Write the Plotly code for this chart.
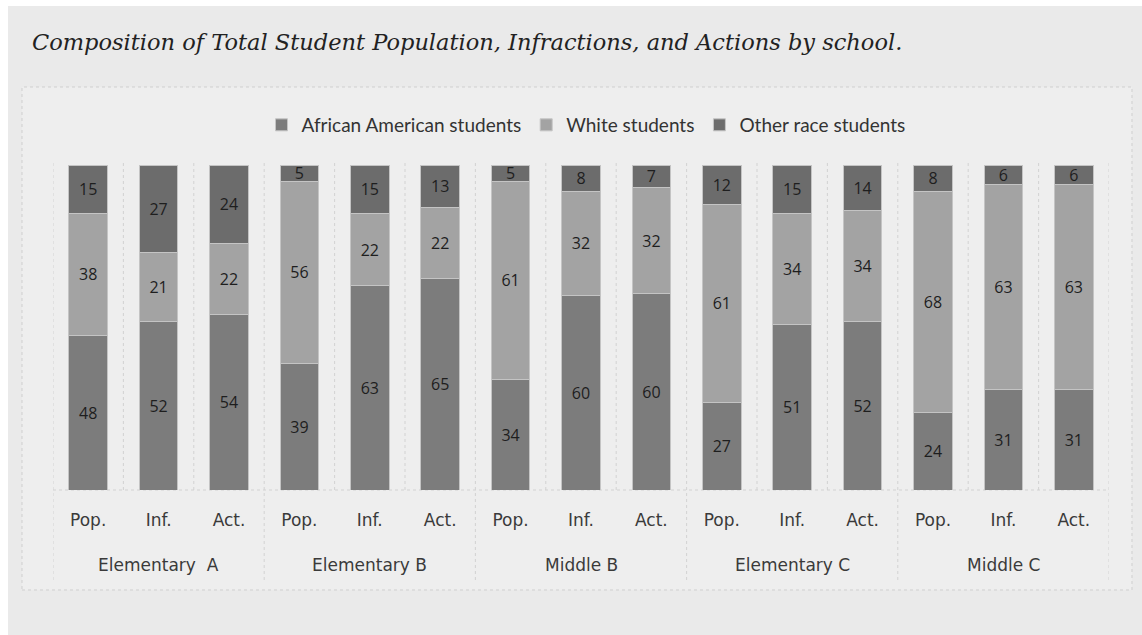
import plotly.graph_objects as go

groups = ["Elementary  A", "Elementary B", "Middle B", "Elementary C", "Middle C"]
measures = ["Pop.", "Inf.", "Act."]
african_american = [48, 52, 54, 39, 63, 65, 34, 60, 60, 27, 51, 52, 24, 31, 31]
white = [38, 21, 22, 56, 22, 22, 61, 32, 32, 61, 34, 34, 68, 63, 63]
other = [15, 27, 24, 5, 15, 13, 5, 8, 7, 12, 15, 14, 8, 6, 6]

series = [
    ("African American students", african_american, "#7c7c7c"),
    ("White students", white, "#a3a3a3"),
    ("Other race students", other, "#6c6c6c"),
]

n = len(african_american)
xs = list(range(n))
ticktext = [measures[i % 3] for i in xs]

fig = go.Figure()
for name, vals, col in series:
    fig.add_trace(go.Bar(
        x=xs, y=vals, name=name, text=vals, texttemplate="%{text}",
        textposition="inside", insidetextanchor="middle", textangle=0,
        textfont=dict(family="Open Sans", size=16, color="#1e1e1e"),
        marker=dict(color=col, line=dict(color="#c4c4c4", width=1)),
        width=0.55,
    ))

L, R, T, B = 53, 33, 165, 145
W, H = 1142, 635
pw = W - L - R
ph = H - T - B

def px(xpix):
    return (xpix - L) / pw

def py(ypix):
    return (H - B - ypix) / ph

shapes = []
shapes.append(dict(type="rect", xref="paper", yref="paper", x0=px(8), x1=px(1142), y0=py(635), y1=py(6),
                   fillcolor="#eaeaea", line=dict(width=0), layer="below"))
shapes.append(dict(type="rect", xref="paper", yref="paper", x0=px(22), x1=px(1132), y0=py(590), y1=py(87),
                   fillcolor="#eeeeee", line=dict(color="#cfcfcf", width=1, dash="dot"), layer="below"))
for i in range(n + 1):
    xv = i - 0.5
    shapes.append(dict(type="line", xref="x", yref="paper", x0=xv, x1=xv, y0=0, y1=py(160),
                       line=dict(color="#d2d2d2", width=1, dash="dot"), layer="below"))
for g in range(len(groups) + 1):
    xv = g * 3 - 0.5
    shapes.append(dict(type="line", xref="x", yref="paper", x0=xv, x1=xv, y0=py(580), y1=0,
                       line=dict(color="#d2d2d2", width=1, dash="dot"), layer="below"))
shapes.append(dict(type="line", xref="x", yref="paper", x0=-0.5, x1=n - 0.5, y0=0, y1=0,
                   line=dict(color="#d2d2d2", width=1, dash="dot"), layer="below"))

annotations = []
for g, name in enumerate(groups):
    annotations.append(dict(x=g * 3 + 1, xref="x", y=py(565), yref="paper", text=name, showarrow=False,
                            font=dict(family="DejaVu Sans", size=17, color="#3a3a3a"),
                            xanchor="center", yanchor="middle"))
annotations.append(dict(x=px(30), xref="paper", y=py(42), yref="paper",
                        text="Composition of Total Student Population, Infractions, and Actions by school.",
                        showarrow=False, xanchor="left", yanchor="middle",
                        font=dict(family="DejaVu Serif", size=22.5, color="#222222", style="italic")))

fig.update_layout(
    width=W, height=H,
    margin=dict(l=L, r=R, t=T, b=B),
    paper_bgcolor="#ffffff", plot_bgcolor="rgba(0,0,0,0)",
    barmode="stack", barnorm="percent",
    uniformtext=dict(mode="show", minsize=16),
    showlegend=True,
    legend=dict(orientation="h", x=px(586), xanchor="center", y=py(125), yanchor="middle",
                font=dict(family="Lato", size=19, color="#333333"), bgcolor="rgba(0,0,0,0)",
                traceorder="normal"),
    xaxis=dict(tickvals=xs, ticktext=ticktext, range=[-0.5, n - 0.5], showgrid=False, zeroline=False,
               showline=False, ticks="", ticklabelstandoff=18,
               tickfont=dict(family="DejaVu Sans", size=17, color="#3a3a3a")),
    yaxis=dict(range=[0, 100], visible=False),
    shapes=shapes, annotations=annotations,
)

fig.write_html("out.html")
